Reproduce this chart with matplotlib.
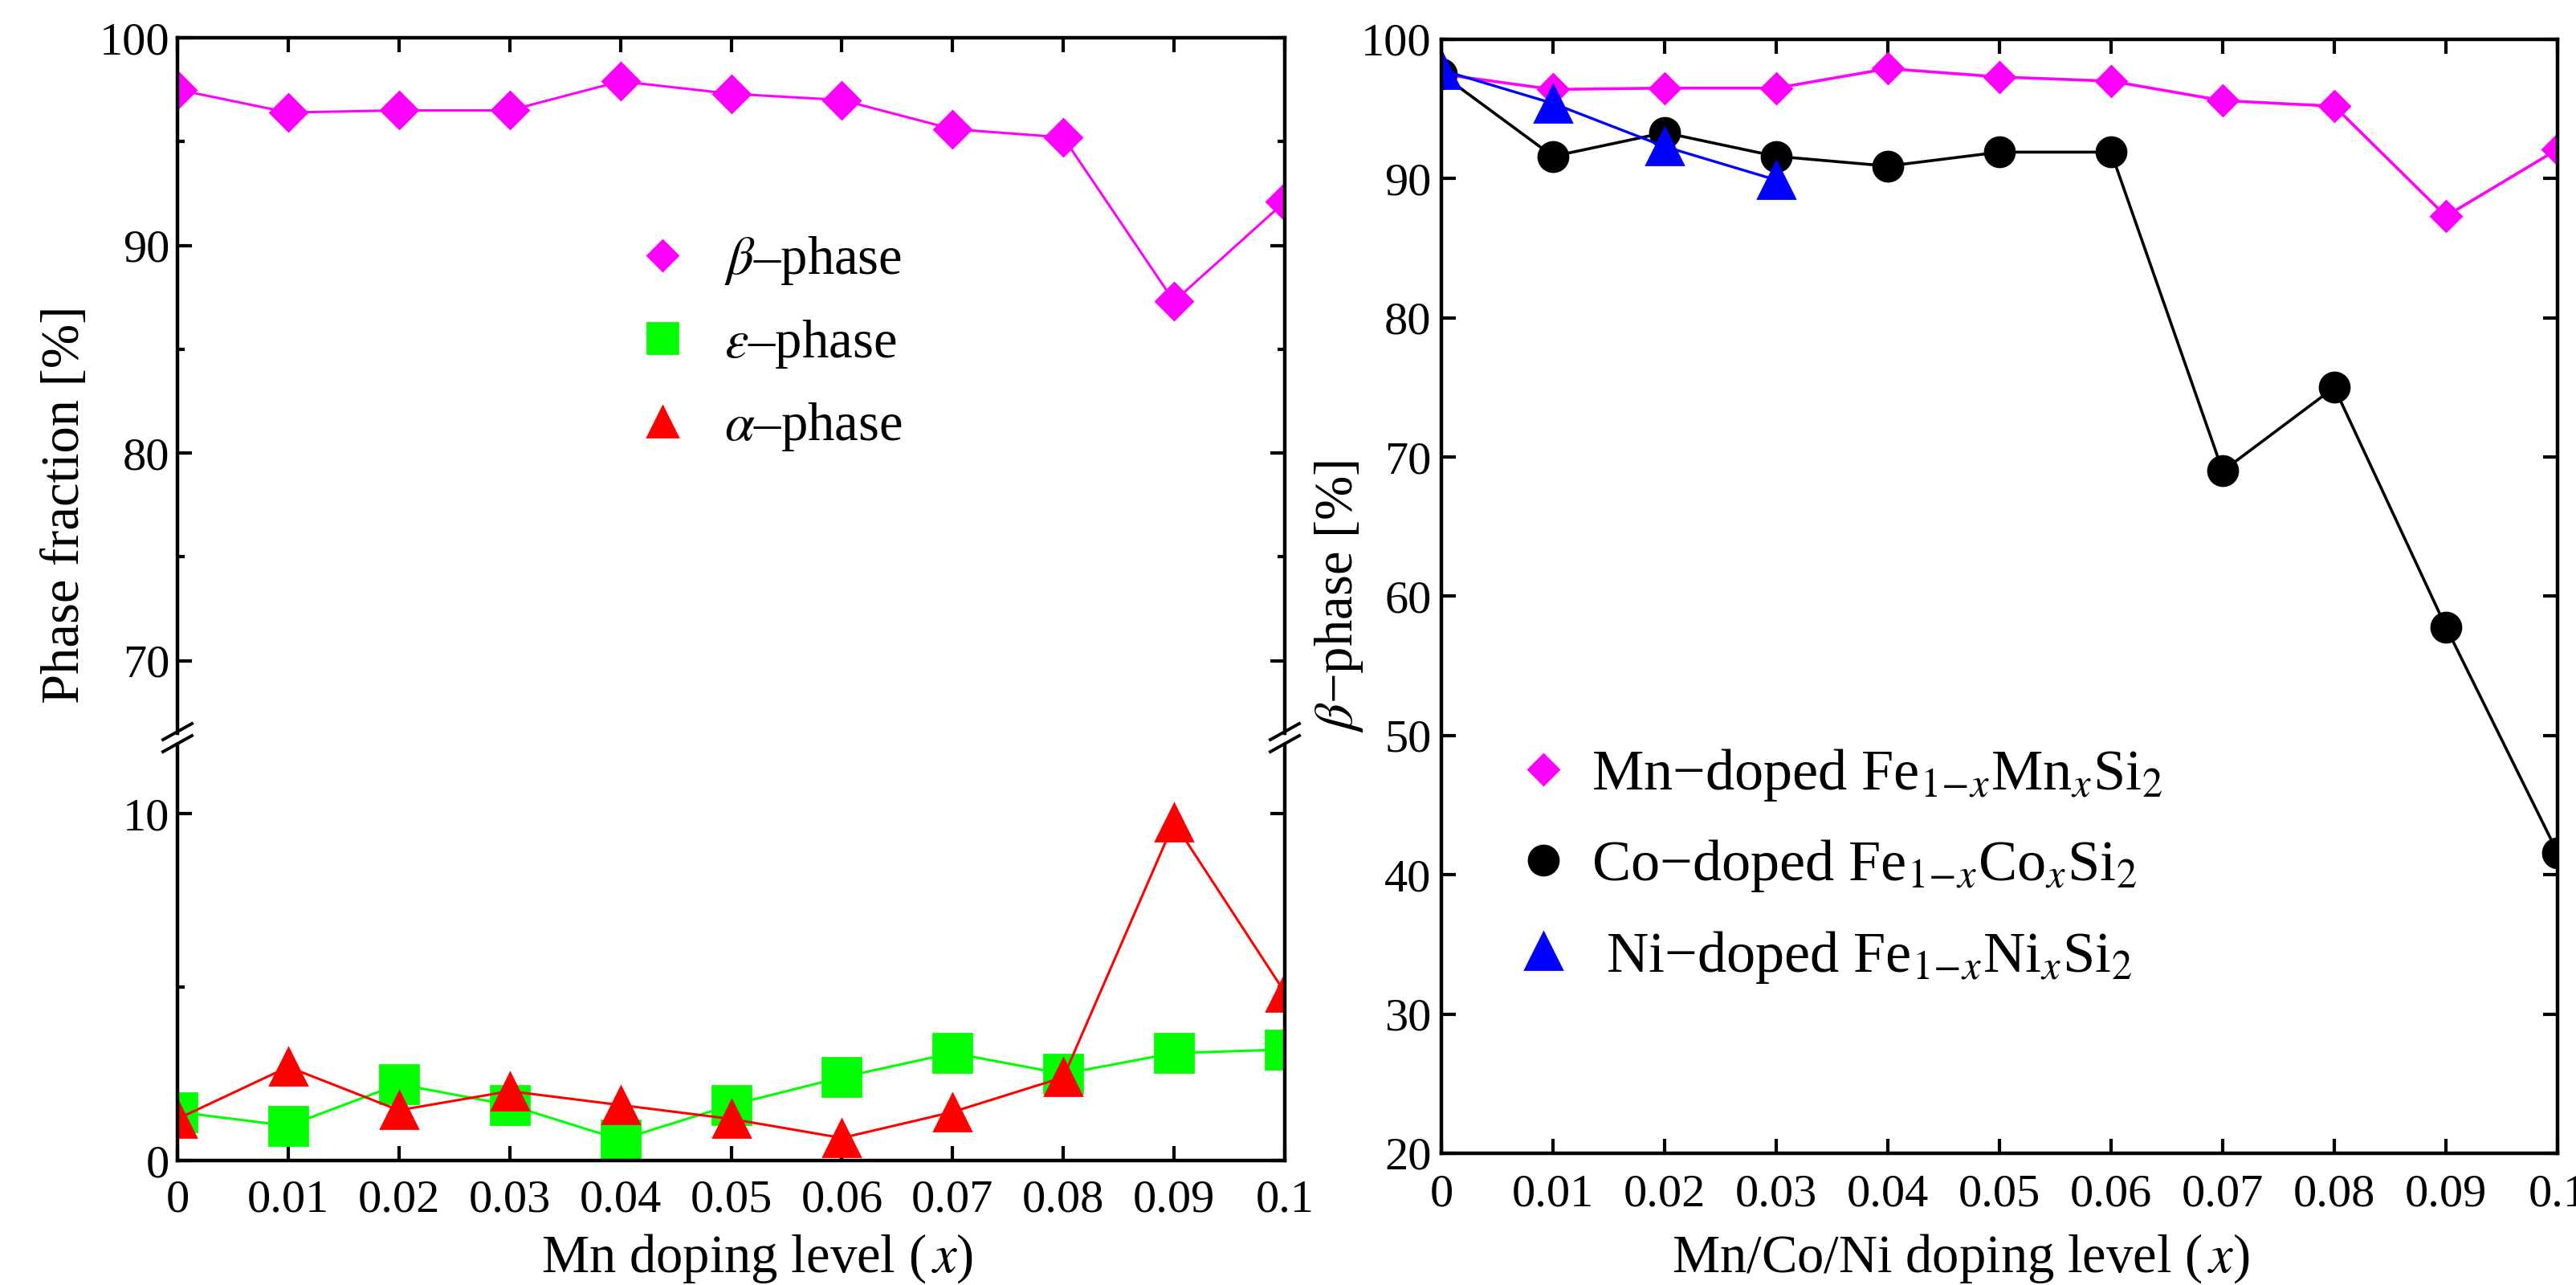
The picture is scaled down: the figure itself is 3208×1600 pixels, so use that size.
import matplotlib
matplotlib.use('Agg')
import matplotlib.pyplot as plt
from matplotlib.lines import Line2D
from matplotlib.ticker import MultipleLocator

plt.rcParams['font.family'] = ['Liberation Serif', 'DejaVu Serif']
plt.rcParams['mathtext.fontset'] = 'stix'

# doping levels
x = [0, 0.01, 0.02, 0.03, 0.04, 0.05, 0.06, 0.07, 0.08, 0.09, 0.1]
x_labels = ['0', '0.01', '0.02', '0.03', '0.04', '0.05', '0.06', '0.07', '0.08', '0.09', '0.1']

# left panel: phase fractions for Mn doping [%]
beta = [97.5, 96.4, 96.5, 96.5, 97.9, 97.3, 97.0, 95.6, 95.2, 87.3, 92.1]
eps = [1.4, 1.0, 2.2, 1.6, 0.6, 1.6, 2.4, 3.1, 2.5, 3.1, 3.2]
alpha = [1.2, 2.7, 1.45, 2.0, 1.6, 1.2, 0.65, 1.4, 2.4, 9.75, 4.85]

# right panel: beta-phase for Mn/Co/Ni doping [%]
mn = [97.5, 96.4, 96.5, 96.5, 97.9, 97.3, 97.0, 95.6, 95.2, 87.3, 92.1]
co = [97.5, 91.6, 93.3, 91.6, 90.9, 91.9, 91.9, 69.0, 75.0, 57.8, 41.6]
x_ni = [0, 0.01, 0.02, 0.03]
ni = [97.8, 95.4, 92.3, 89.9]

W, H = 3208, 1600
fig = plt.figure(figsize=(W / 200, H / 200), dpi=200)


def fx(px):
    return px / W


def fy(py):
    return 1 - py / H


def box(l, t, r, b):
    return [fx(l), fy(b), fx(r) - fx(l), fy(t) - fy(b)]


ax_top = fig.add_axes(box(221, 47, 1600, 913))
ax_bot = fig.add_axes(box(221, 927, 1600, 1445))
ax_r = fig.add_axes(box(1795, 49, 3185, 1436))

for ax in (ax_top, ax_bot, ax_r):
    for s in ax.spines.values():
        s.set_linewidth(1.6)
    ax.tick_params(which='both', direction='in', width=1.5, labelsize=21,
                   top=True, right=True)
    ax.tick_params(which='major', length=6.5)
    ax.tick_params(which='minor', length=3.2)
    ax.set_xlim(0, 0.1)
    ax.set_xticks(x, x_labels)

# --- left panel, upper part
ax_top.plot(x, beta, color='#ff00ff', marker='D', ms=11.5, lw=1.1)
ax_top.set_ylim(66.5, 100)
ax_top.set_yticks([70, 80, 90, 100])
ax_top.yaxis.set_minor_locator(MultipleLocator(5))
ax_top.spines['bottom'].set_visible(False)
ax_top.tick_params(axis='x', bottom=False, labelbottom=False)
ax_top.tick_params(axis='y', pad=3.5)

# --- left panel, lower part
ax_bot.plot(x, eps, color='#00ff00', marker='s', ms=17, lw=1.1)
ax_bot.plot(x, alpha, color='#ff0000', marker='^', ms=16.5, lw=1.1)
ax_bot.set_ylim(0, 12)
ax_bot.set_yticks([0, 10])
ax_bot.yaxis.set_minor_locator(MultipleLocator(5))
ax_bot.spines['top'].set_visible(False)
ax_bot.tick_params(axis='x', top=False, pad=8.5)
ax_bot.tick_params(axis='y', pad=3.5)

# break marks
for xs in (221, 1600):
    for yc in (911, 926):
        fig.add_artist(Line2D([fx(xs - 18), fx(xs + 18)], [fy(yc + 10), fy(yc - 10)],
                              transform=fig.transFigure, color='black', lw=1.4))

leg_l = [Line2D([], [], color='#ff00ff', marker='D', ms=9.5, ls='none'),
         Line2D([], [], color='#00ff00', marker='s', ms=14, ls='none'),
         Line2D([], [], color='#ff0000', marker='^', ms=14, ls='none')]
fig.legend(leg_l, ['$\\beta$\u2013phase', '$\\varepsilon$\u2013phase', '$\\alpha$\u2013phase'],
           loc='upper left', bbox_to_anchor=(fx(792), fy(292)), frameon=False,
           fontsize=24, handlelength=1.0, handletextpad=0.65, labelspacing=0.58,
           borderpad=0, borderaxespad=0)

fig.text(fx(82), fy(628), 'Phase fraction [%]', rotation=90, ha='center', va='center',
         fontsize=24)
fig.text(fx(943), 0.01, 'Mn doping level ($\\,x$)', ha='center', va='baseline', fontsize=24)

# --- right panel
ax_r.plot(x, mn, color='#ff00ff', marker='D', ms=9.7, lw=1.3)
ax_r.plot(x, co, color='black', marker='o', ms=13.3, lw=1.3)
ax_r.plot(x_ni, ni, color='#0000ff', marker='^', ms=16.5, lw=1.2)
ax_r.set_ylim(20, 100)
ax_r.set_yticks(range(20, 101, 10))
ax_r.tick_params(axis='x', pad=9)
ax_r.tick_params(axis='y', pad=4.5)

leg_r = [Line2D([], [], color='#ff00ff', marker='D', ms=9.7, ls='none'),
         Line2D([], [], color='black', marker='o', ms=13.3, ls='none'),
         Line2D([], [], color='#0000ff', marker='^', ms=16.5, ls='none')]
fig.legend(leg_r, ['Mn\u2212doped Fe$_{1\\!-\\!x}$Mn$_x$Si$_2$',
                   'Co\u2212doped Fe$_{1\\!-\\!x}$Co$_x$Si$_2$',
                   ' Ni\u2212doped Fe$_{1\\!-\\!x}$Ni$_x$Si$_2$'],
           loc='upper left', bbox_to_anchor=(fx(1893), fy(930)), frameon=False,
           fontsize=26, handlelength=0.8, handletextpad=0.43, labelspacing=0.6,
           borderpad=0, borderaxespad=0)

fig.text(fx(1668), fy(742), '$\\beta$\u2212phase [%]', rotation=90, ha='center', va='center',
         fontsize=24)
fig.text(fx(2442), 0.01, 'Mn/Co/Ni doping level ($\\,x$)', ha='center', va='baseline',
         fontsize=24)

fig.savefig('out.png', dpi=200)
